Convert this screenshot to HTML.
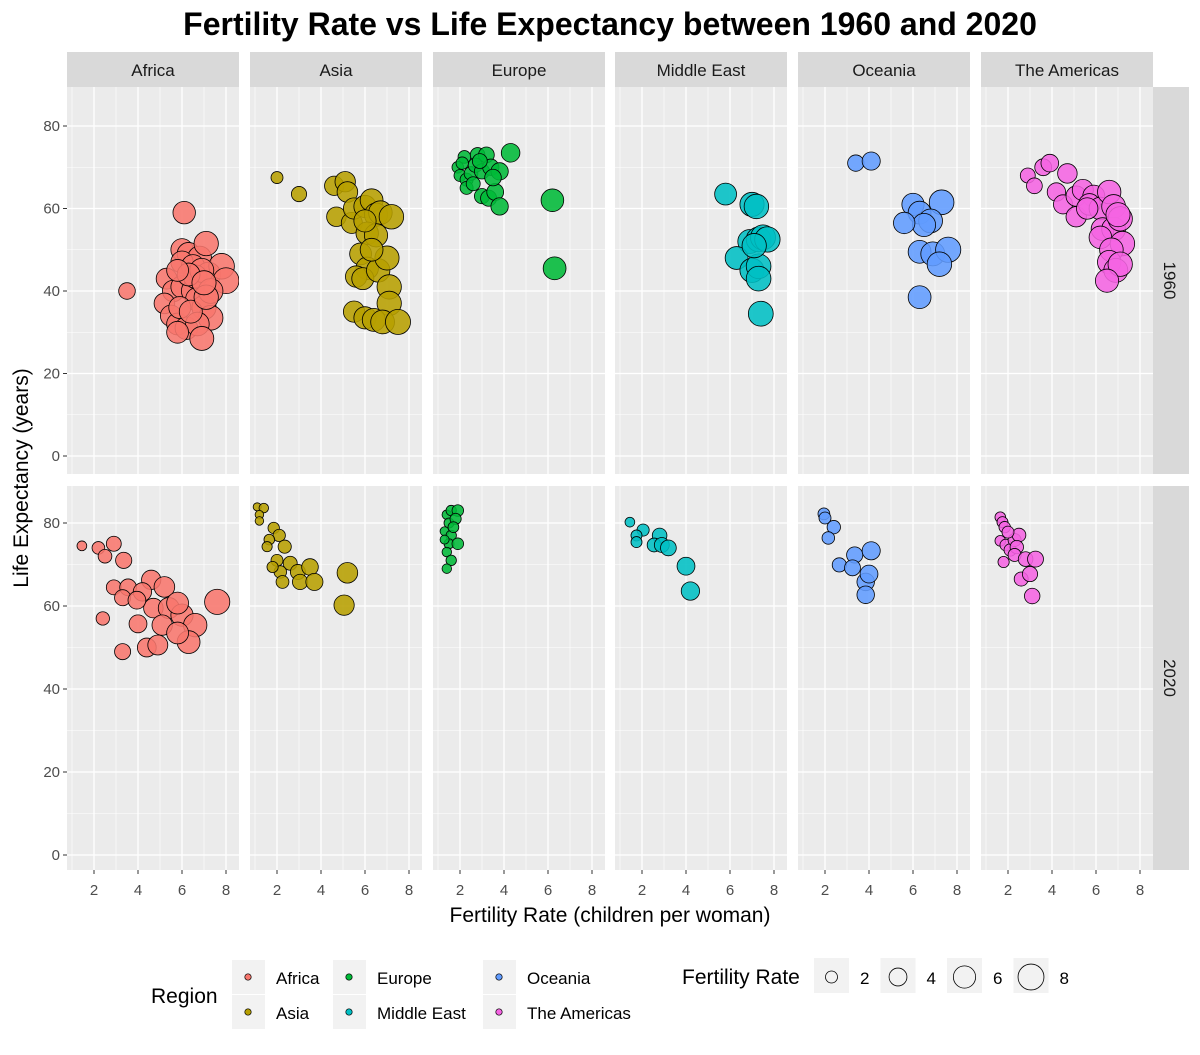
<!DOCTYPE html>
<html><head><meta charset="utf-8"><style>
body{margin:0;background:#fff;font-family:"Liberation Sans",Arial,sans-serif}
svg text{font-family:"Liberation Sans",Arial,sans-serif}
</style></head><body>
<svg id="chart" width="1200" height="1050" xmlns="http://www.w3.org/2000/svg">
<rect width="1200" height="1050" fill="#fff"/>
<text x="610" y="35" text-anchor="middle" font-size="32" font-weight="bold" fill="#000">Fertility Rate vs Life Expectancy between 1960 and 2020</text>
<g id="panels"></g>
<text x="610" y="922" text-anchor="middle" font-size="21" fill="#000">Fertility Rate (children per woman)</text>
<text transform="translate(28,478) rotate(-90)" text-anchor="middle" font-size="21" fill="#000">Life Expectancy (years)</text>
<g id="legend"></g>
</svg>
<script>
const regions = ["Africa","Asia","Europe","Middle East","Oceania","The Americas"];
const colors = ["#F8766D","#B79F00","#00BA38","#00BFC4","#619CFF","#F564E3"];
const years = ["1960","2020"];
const xTicks = [2,4,6,8];
const yTicks = [0,20,40,60,80];
const sizeBreaks = [2,4,6,8];
// [fertility, life expectancy]
const africa1960 = [[6.1,59],[3.5,40],[6.0,50],[6.3,49],[6.8,48],[7.1,51.5],[6.0,47],[6.5,46],[7.2,44],[7.8,46],[8.0,42.5],[5.3,43],[5.6,40],[6.0,41],[6.5,40],[6.7,38],[7.0,36],[7.3,33.5],[5.2,37],[5.5,34],[5.8,32],[6.2,31],[6.7,32],[6.9,28.5],[5.8,30],[6.6,43.5],[6.9,45],[7.3,40],[5.9,36],[6.4,35],[7.1,38.5],[6.3,44],[5.8,45],[7.0,42]];
const asia1960 = [[2,67.5],[3,63.5],[4.6,65.5],[5.1,66.5],[5.2,64],[4.7,58],[5.4,56.5],[5.5,60],[6.0,60.5],[6.3,62],[6.5,58.5],[6.7,59],[7.2,58],[6.1,54],[5.8,49],[6.1,45.5],[5.6,43.5],[5.9,43],[6.6,45],[7.0,48],[7.1,41],[7.1,37],[5.5,35],[6.0,33.5],[6.4,33],[6.8,32.5],[7.5,32.5],[6.5,53.5],[6.0,57],[6.3,50]];
const europe1960 = [[1.9,70],[2.2,72.5],[2.8,73],[3.2,73],[4.3,73.5],[2.0,68],[2.3,67],[2.5,68.5],[2.7,70.5],[3.0,69],[3.4,70],[3.8,69],[2.3,65],[2.6,66],[3.0,63],[3.3,62.5],[3.6,64],[3.8,60.5],[3.5,67.5],[6.2,62],[6.3,45.5],[2.1,71],[2.9,71.5]];
const mideast1960 = [[5.8,63.5],[7.0,61],[7.2,60.5],[6.9,52],[7.3,52.5],[7.5,53],[7.7,52.5],[6.3,48],[7.0,45],[7.3,46],[7.3,43],[7.4,34.5],[7.1,51]];
const oceania1960 = [[3.4,71],[4.1,71.5],[6.0,61],[7.3,61.5],[6.3,59],[6.8,57],[6.5,56],[5.6,56.5],[6.3,49.5],[6.9,49],[7.6,50],[7.2,46.5],[6.3,38.5]];
const americas1960 = [[2.9,68],[3.2,65.5],[3.6,70],[3.9,71],[4.2,64],[4.7,68.5],[4.5,61],[5.1,63],[5.4,64.5],[5.1,58],[5.9,63],[5.7,61],[6.2,60],[6.6,64],[6.8,60.5],[6.3,55],[6.8,55],[7.1,57.5],[6.2,53],[7.2,51.5],[6.7,50],[6.6,47],[6.9,45],[7.1,46.5],[6.5,42.5],[7.0,58.5],[5.6,60]];
const africa2020 = [[1.45,74.5],[2.2,74],[2.9,75],[2.5,72],[3.35,71],[2.9,64.5],[3.55,64.5],[3.3,62],[2.4,57],[4.0,55.7],[3.3,49],[7.6,61],[4.6,66.3],[5.2,64.6],[4.2,63.4],[4.7,59.5],[5.4,59.5],[6.0,57.8],[6.6,55.4],[5.1,55.4],[4.4,50],[4.9,50.6],[6.3,51.3],[5.8,53.5],[3.95,61.4],[5.8,60.7]];
const asia2020 = [[1.1,83.9],[1.4,83.6],[1.2,82],[1.2,80.5],[1.85,78.8],[2.1,77],[1.65,76],[1.55,74.3],[2.35,74.3],[2.0,71],[2.6,70.3],[2.15,68.2],[2.95,68.2],[3.5,69.4],[2.25,65.8],[3.05,65.8],[3.7,65.8],[5.2,68],[5.05,60.2],[1.8,69.4]];
const europe2020 = [[1.4,82],[1.6,83],[1.9,83],[1.5,80],[1.8,81],[1.3,78],[1.6,77],[1.5,75],[1.9,75],[1.4,73],[1.6,71],[1.4,69],[1.7,79],[1.3,76]];
const mideast2020 = [[1.45,80.2],[2.05,78.3],[1.75,77],[1.75,75.4],[2.8,77],[2.55,74.7],[2.9,74.7],[3.2,74],[4.0,69.6],[4.2,63.6]];
const oceania2020 = [[1.95,82.2],[2,81.2],[2.4,79],[2.15,76.4],[2.65,69.9],[3.35,72.3],[3.25,69.2],[4.1,73.3],[3.85,65.8],[4.0,67.7],[3.85,62.7]];
const americas2020 = [[1.65,81.4],[1.75,80.2],[1.85,79],[1.65,75.7],[1.9,74.7],[1.8,70.6],[2.1,73.5],[2.3,75.9],[2.5,77.1],[2.4,74.2],[2.3,72.3],[2.8,71.3],[3.25,71.3],[2.6,66.5],[3.0,67.7],[3.1,62.4],[2,77.8]];
const data = [[africa1960,asia1960,europe1960,mideast1960,oceania1960,americas1960],[africa2020,asia2020,europe2020,mideast2020,oceania2020,americas2020]];

const NS="http://www.w3.org/2000/svg";
function mk(tag,attrs,parent){const e=document.createElementNS(NS,tag);for(const k in attrs)e.setAttribute(k,attrs[k]);parent.appendChild(e);return e;}
const colLeft=[67,250,433,615,798,981], pw=172;
const rowTop=[87,486], rowH=[387,384];
const yZero=[456,855], yPer=[4.125,4.15];
function xs(c,f){return colLeft[c]+27+(f-2)*22;}
function ys(r,v){return yZero[r]-yPer[r]*v;}
function rad(f){return Math.sqrt(Math.max(16,36+22*(f-2)));}
const P=document.getElementById('panels');
for(let c=0;c<6;c++){
  const s=mk('rect',{x:colLeft[c],y:52,width:pw,height:35,fill:'#D9D9D9'},P);
  
  
  const t=mk('text',{x:colLeft[c]+pw/2,y:76,'text-anchor':'middle','font-size':17,fill:'#1a1a1a'},P);t.textContent=regions[c];
  
  
}
for(let r=0;r<2;r++){
  const rs=mk('rect',{x:1153,y:rowTop[r],width:36,height:rowH[r],fill:'#D9D9D9'},P);
  
  
  const cy=rowTop[r]+rowH[r]/2;
  const rt=mk('text',{transform:`translate(1164,${cy}) rotate(90)`,'text-anchor':'middle','font-size':17,fill:'#1a1a1a'},P);rt.textContent=years[r];
  
  
  for(let c=0;c<6;c++){
    const g=mk('g',{},P);
    
    
    const x0=colLeft[c],y0=rowTop[r],h=rowH[r];
    mk('rect',{x:x0,y:y0,width:pw,height:h,fill:'#EBEBEB'},g);
    const cp='clip'+r+c;
    const cl=mk('clipPath',{id:cp},g);mk('rect',{x:x0,y:y0,width:pw,height:h},cl);
    for(let v=1;v<=7;v+=2){const x=xs(c,v);mk('line',{x1:x,x2:x,y1:y0,y2:y0+h,stroke:'#fff','stroke-width':0.6},g);}
    for(let v=10;v<=90;v+=20){const y=ys(r,v);if(y>y0)mk('line',{x1:x0,x2:x0+pw,y1:y,y2:y,stroke:'#fff','stroke-width':0.6},g);}
    xTicks.forEach(v=>{const x=xs(c,v);mk('line',{x1:x,x2:x,y1:y0,y2:y0+h,stroke:'#fff','stroke-width':1.3},g);});
    yTicks.forEach(v=>{const y=ys(r,v);mk('line',{x1:x0,x2:x0+pw,y1:y,y2:y,stroke:'#fff','stroke-width':1.3},g);});
    const pg=mk('g',{'clip-path':`url(#${cp})`},g);
    data[r][c].forEach(d=>{
      const p=mk('circle',{cx:xs(c,d[0]),cy:ys(r,d[1]),r:rad(d[0]),fill:colors[c],'fill-opacity':0.88,stroke:'#000','stroke-width':0.8},pg);
      
      
    });
    if(r===1){xTicks.forEach(v=>{const x=xs(c,v);mk('line',{x1:x,x2:x,y1:870,y2:874,stroke:'#333','stroke-width':1},P);
      const t=mk('text',{x:x,y:895,'text-anchor':'middle','font-size':15,fill:'#4d4d4d'},P);t.textContent=v;
      
      });}
  }
  yTicks.forEach(v=>{const y=ys(r,v);mk('line',{x1:63,x2:67,y1:y,y2:y,stroke:'#333','stroke-width':1},P);
    const t=mk('text',{x:60,y:y+5,'text-anchor':'end','font-size':15,fill:'#4d4d4d'},P);t.textContent=v;
    
    });
}
const L=document.getElementById('legend');
const lt=mk('text',{x:151,y:1003,'font-size':21,fill:'#000'},L);lt.textContent='Region';


const lpos=[[232,960],[232,995],[333,960],[333,995],[483,960],[483,995]];
const order=[0,1,2,3,4,5];
order.forEach((i)=>{const [x,y]=lpos[i];
  const g=mk('g',{},L);
  
  
  mk('rect',{x:x,y:y,width:33,height:34,fill:'#F2F2F2'},g);
  mk('circle',{cx:x+16,cy:y+17,r:3.2,fill:colors[i],stroke:'#000','stroke-width':0.7},g);
  const t=mk('text',{x:x+44,y:y+24,'font-size':17,fill:'#000'},g);t.textContent=regions[i];});
const st=mk('text',{x:682,y:984,'font-size':21,fill:'#000'},L);st.textContent='Fertility Rate';


sizeBreaks.forEach((v,i)=>{const x=814+i*66.5;
  const g=mk('g',{},L);
  
  
  mk('rect',{x:x,y:958,width:35,height:35,fill:'#F2F2F2'},g);
  mk('circle',{cx:x+17.5,cy:977,r:rad(v),fill:'none',stroke:'#000','stroke-width':0.8},g);
  const t=mk('text',{x:x+46,y:984,'font-size':17,fill:'#000'},g);t.textContent=v;});
</script>
</body></html>
